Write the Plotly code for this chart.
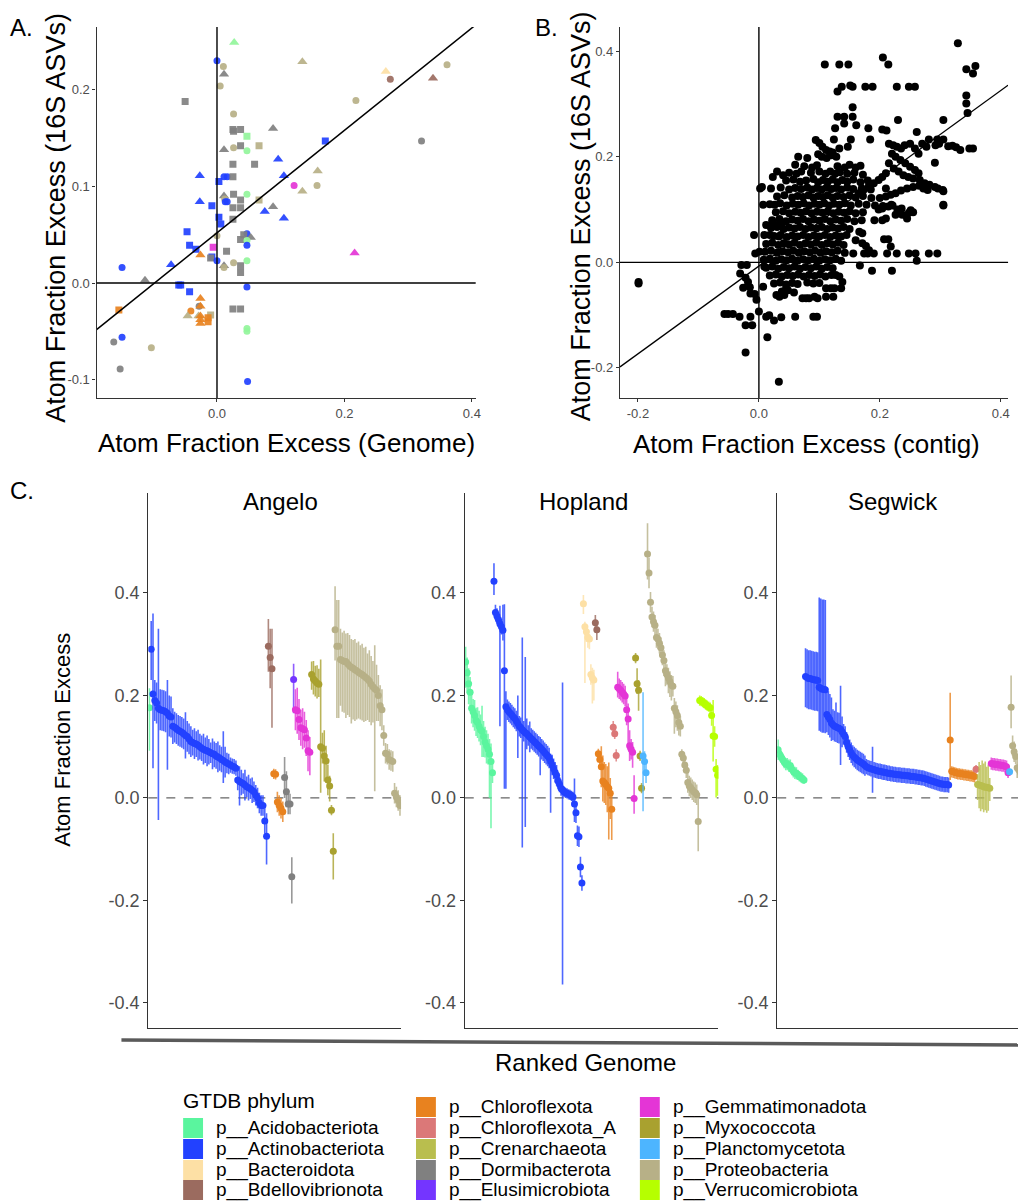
import plotly.graph_objects as go

W, H = 1026, 1201          # browser window
OFF = 8                    # default page margin of the html body
FW, FH = W - OFF, H - OFF  # figure size so that the figure fills the window
FONT = "Liberation Sans, Arial, Helvetica, sans-serif"

# ---------------- phylum palette ----------------
phylum_names = ["p__Acidobacteriota", "p__Actinobacteriota", "p__Bacteroidota", "p__Bdellovibrionota",
                "p__Chloroflexota", "p__Chloroflexota_A", "p__Crenarchaeota", "p__Dormibacterota",
                "p__Elusimicrobiota", "p__Gemmatimonadota", "p__Myxococcota", "p__Planctomycetota",
                "p__Proteobacteria", "p__Verrucomicrobiota"]
phylum_keys = ["aci", "act", "bac", "bde", "chl", "chA", "cre", "dor", "elu", "gem", "myx", "pla", "pro", "ver"]
phylum_colors = ["#5AF59E", "#2241FF", "#FDE0A5", "#9B6B5F", "#E8821F", "#DB7878", "#B9BE4E",
                 "#808080", "#7435FF", "#E435D6", "#A9A12F", "#4DB5FF", "#B7B087", "#B6FF00"]
COL = dict(zip(phylum_keys, phylum_colors))
COL_A = dict(COL, aci="#93F59B")

# ---------------- Panel A : genome vs 16S ----------------
a_x = [0.027, 0.000, 0.010, 0.011, 0.005, -0.050, 0.134, 0.265, 0.272, 0.339,
       0.361, 0.218, 0.321, 0.170, 0.026, 0.025, 0.026, 0.037, 0.047, 0.088,
       0.011, 0.026, 0.037, 0.047, 0.066, 0.025, 0.059, 0.096, -0.027, 0.011,
       0.016, 0.025, 0.105, 0.158, 0.121, 0.157, 0.134, 0.003, 0.047, -0.027,
       -0.008, 0.011, 0.012, 0.013, 0.016, 0.026, 0.037, 0.066, 0.025, 0.037,
       0.075, 0.088, 0.105, 0.003, 0.006, 0.025, -0.047, 0.000, 0.047, 0.037,
       0.042, 0.053, 0.047, 0.047, -0.043, -0.033, -0.006, -0.008, -0.010, 0.000,
       -0.026, -0.072, 0.015, 0.011, 0.011, 0.026, 0.037, 0.037, 0.047, -0.149,
       -0.113, -0.060, -0.057, -0.043, 0.047, 0.216, -0.154, -0.028, -0.026, -0.026,
       -0.041, -0.046, -0.029, -0.010, -0.026, -0.026, -0.026, -0.014, -0.014, 0.025,
       0.037, 0.047, 0.047, -0.149, -0.162, -0.103, -0.152, 0.048]
a_y = [0.249, 0.230, 0.224, 0.216, 0.204, 0.188, 0.229, 0.219, 0.211, 0.212,
       0.226, 0.189, 0.147, 0.147, 0.175, 0.159, 0.157, 0.159, 0.152, 0.160,
       0.138, 0.140, 0.142, 0.137, 0.142, 0.123, 0.123, 0.128, 0.111, 0.110,
       0.110, 0.110, 0.111, 0.116, 0.101, 0.101, 0.095, 0.105, 0.092, 0.084,
       0.080, 0.090, 0.087, 0.084, 0.084, 0.092, 0.086, 0.086, 0.078, 0.078,
       0.074, 0.079, 0.067, 0.068, 0.061, 0.066, 0.053, 0.049, 0.051, 0.045,
       0.050, 0.047, 0.044, 0.039, 0.039, 0.035, 0.037, 0.027, 0.026, 0.023,
       0.029, 0.019, 0.033, 0.018, 0.016, 0.021, 0.018, 0.011, 0.023, 0.016,
       0.003, -0.002, -0.002, -0.009, -0.004, 0.031, -0.028, -0.024, -0.016, -0.024,
       -0.029, -0.034, -0.034, -0.033, -0.034, -0.038, -0.042, -0.036, -0.040, -0.027,
       -0.027, -0.047, -0.050, -0.056, -0.061, -0.067, -0.089, -0.102]
a_phy = ["aci", "act", "pro", "dor", "pro", "dor", "pro", "bac", "bde", "bde",
         "pro", "pro", "dor", "act", "pro", "dor", "dor", "dor", "aci", "dor",
         "dor", "pro", "dor", "aci", "pro", "dor", "dor", "act", "act", "act",
         "act", "dor", "act", "pro", "gem", "pro", "pro", "act", "aci", "act",
         "act", "dor", "pro", "act", "act", "dor", "dor", "pro", "dor", "dor",
         "act", "dor", "act", "act", "act", "dor", "act", "pro", "act", "dor",
         "dor", "dor", "aci", "act", "act", "act", "gem", "act", "dor", "act",
         "chl", "act", "dor", "dor", "pro", "pro", "dor", "dor", "aci", "act",
         "dor", "act", "act", "act", "act", "gem", "chl", "dor", "chl", "chl",
         "chl", "pro", "pro", "pro", "chl", "chl", "chl", "chl", "chl", "dor",
         "dor", "aci", "aci", "act", "dor", "pro", "dor", "act"]
a_shape = ["t", "c", "c", "t", "c", "s", "t", "t", "c", "t",
           "c", "c", "c", "s", "c", "s", "s", "s", "s", "t",
           "t", "c", "s", "c", "s", "s", "s", "t", "t", "c",
           "c", "s", "t", "t", "c", "c", "t", "s", "c", "t",
           "s", "t", "c", "c", "c", "s", "s", "s", "s", "s",
           "t", "t", "t", "s", "s", "s", "s", "c", "c", "s",
           "s", "t", "c", "c", "s", "s", "s", "s", "s", "c",
           "t", "t", "s", "t", "c", "c", "s", "s", "c", "c",
           "t", "s", "s", "s", "c", "t", "s", "c", "t", "t",
           "c", "t", "t", "s", "t", "t", "t", "s", "s", "s",
           "s", "c", "c", "c", "c", "c", "c", "c"]
a_fit = [0.052, 0.53]  # intercept, slope

# ---------------- Panel B : contig vs 16S ----------------
b_outer = [(0.329, 0.415), (0.343, 0.366), (0.358, 0.372), (0.354, 0.358),
           (0.109, 0.375), (0.133, 0.375), (0.148, 0.375), (0.205, 0.388), (0.214, 0.375),
           (0.130, 0.324), (0.137, 0.333), (0.151, 0.335), (0.155, 0.333), (0.176, 0.333), (0.188, 0.333),
           (0.228, 0.333), (0.248, 0.333), (0.258, 0.333),
           (0.343, 0.316), (0.343, 0.301), (0.345, 0.283),
           (0.155, 0.294), (0.130, 0.276), (0.141, 0.276), (0.155, 0.276), (0.141, 0.263), (0.126, 0.254),
           (0.161, 0.260), (0.230, 0.270), (0.305, 0.270), (0.181, 0.254), (0.204, 0.252), (0.211, 0.250),
           (0.261, 0.247), (0.184, 0.233), (0.152, 0.233), (0.124, 0.233),
           (0.094, 0.232), (0.100, 0.226), (0.105, 0.219), (0.111, 0.213), (0.117, 0.210), (0.122, 0.208),
           (0.133, 0.216), (0.147, 0.219), (0.281, 0.233), (0.295, 0.233), (0.305, 0.233),
           (0.313, 0.220), (0.320, 0.221), (0.326, 0.218), (0.333, 0.213), (0.348, 0.216), (0.354, 0.216),
           (0.270, 0.225), (0.277, 0.219), (0.292, 0.222), (0.298, 0.225), (0.291, 0.189),
           (0.305, 0.135), (0.305, 0.108)]
b_right = [(0.215, 0.225), (0.222, 0.222), (0.228, 0.219), (0.235, 0.216), (0.241, 0.222), (0.250, 0.225),
           (0.258, 0.216), (0.264, 0.206), (0.220, 0.206), (0.226, 0.200), (0.234, 0.194), (0.242, 0.188),
           (0.250, 0.181), (0.258, 0.175), (0.264, 0.169), (0.215, 0.188), (0.223, 0.178), (0.231, 0.172),
           (0.239, 0.165), (0.247, 0.162), (0.255, 0.159), (0.266, 0.156), (0.274, 0.150), (0.282, 0.147),
           (0.291, 0.143), (0.296, 0.140), (0.304, 0.137), (0.210, 0.169), (0.204, 0.162), (0.198, 0.156),
           (0.190, 0.150), (0.181, 0.143), (0.173, 0.137), (0.165, 0.131),
           (0.200, 0.122), (0.210, 0.125), (0.218, 0.128), (0.226, 0.131), (0.235, 0.136), (0.245, 0.140),
           (0.255, 0.143), (0.265, 0.145), (0.272, 0.140), (0.279, 0.137), (0.210, 0.140), (0.192, 0.108),
           (0.198, 0.100), (0.205, 0.107), (0.214, 0.106), (0.221, 0.108), (0.229, 0.100), (0.236, 0.102),
           (0.248, 0.094), (0.255, 0.095), (0.191, 0.080), (0.204, 0.080), (0.210, 0.083), (0.226, 0.090),
           (0.237, 0.090), (0.245, 0.083), (0.251, 0.099), (0.204, 0.102), (0.219, 0.109), (0.305, 0.109)]
b_lower = [(-0.199, -0.037), (-0.199, -0.040), (0.033, -0.226), (-0.022, -0.171), (0.014, -0.142),
           (-0.057, -0.098), (-0.051, -0.098), (-0.043, -0.098), (-0.032, -0.103),
           (-0.022, -0.119), (-0.011, -0.119), (-0.014, -0.103), (0.000, -0.093),
           (0.012, -0.103), (0.017, -0.100), (0.025, -0.110), (0.037, -0.104),
           (0.060, -0.103), (0.090, -0.103), (0.096, -0.103),
           (-0.029, -0.005), (-0.020, -0.005), (-0.031, -0.021), (-0.022, -0.029), (-0.018, -0.037),
           (-0.015, -0.047), (-0.026, -0.048), (-0.014, -0.059), (-0.007, -0.060), (-0.004, -0.071),
           (0.007, -0.046), (0.009, -0.008), (-0.008, 0.052), (-0.006, 0.017), (0.001, 0.020),
           (0.007, 0.109), (0.026, 0.109), (0.012, 0.071), (0.020, 0.071), (0.029, 0.071), (0.037, 0.071),
           (0.009, 0.052), (0.018, 0.052), (0.033, 0.049),
           (0.029, -0.062), (0.034, -0.065), (0.042, -0.062), (0.045, -0.049),
           (0.072, -0.068), (0.078, -0.068), (0.083, -0.068), (0.092, -0.065), (0.097, -0.068),
           (0.111, -0.049), (0.119, -0.049), (0.125, -0.049), (0.111, -0.065), (0.123, -0.065),
           (0.136, -0.049), (0.138, -0.037), (0.127, -0.024), (0.133, -0.027),
           (0.167, -0.006), (0.187, -0.016), (0.220, -0.016),
           (0.156, 0.017), (0.174, 0.017), (0.180, 0.017), (0.190, 0.017), (0.212, 0.017), (0.228, 0.017),
           (0.248, 0.017), (0.259, 0.017), (0.281, 0.017), (0.295, 0.017), (0.261, 0.003),
           (0.160, 0.042), (0.171, 0.036), (0.177, 0.031), (0.182, 0.023),
           (0.207, 0.044), (0.214, 0.044), (0.218, 0.030), (0.166, 0.058), (0.171, 0.055),
           (0.002, 0.140), (0.005, 0.143), (0.023, 0.162), (0.040, 0.165)]
b_core = [(0.065, 0.200), (0.080, 0.198), (0.098, 0.205), (0.104, 0.200), (0.112, 0.198), (0.120, 0.203), (0.128, 0.200),
          (0.060, 0.185), (0.075, 0.182), (0.088, 0.180), (0.096, 0.184), (0.130, 0.182), (0.142, 0.180),
          (0.150, 0.185), (0.160, 0.180), (0.168, 0.183),
          (0.030, 0.172), (0.050, 0.170), (0.062, 0.168), (0.070, 0.172), (0.086, 0.170), (0.100, 0.172),
          (0.110, 0.168), (0.118, 0.172), (0.126, 0.168), (0.134, 0.171), (0.146, 0.168), (0.158, 0.170), (0.172, 0.166),
          (0.045, 0.155), (0.057, 0.157), (0.068, 0.153), (0.078, 0.155), (0.090, 0.158), (0.098, 0.152),
          (0.106, 0.156), (0.114, 0.153), (0.122, 0.157), (0.130, 0.152), (0.138, 0.156), (0.146, 0.153),
          (0.156, 0.157), (0.168, 0.152), (0.180, 0.155),
          (0.020, 0.140), (0.036, 0.142), (0.050, 0.138), (0.060, 0.141), (0.070, 0.139), (0.080, 0.142),
          (0.088, 0.138), (0.096, 0.141), (0.104, 0.138), (0.112, 0.142), (0.120, 0.139), (0.128, 0.141),
          (0.136, 0.138), (0.146, 0.142), (0.156, 0.139), (0.170, 0.140), (0.185, 0.138),
          (0.030, 0.125), (0.042, 0.127), (0.055, 0.123), (0.064, 0.126), (0.073, 0.124), (0.082, 0.127),
          (0.090, 0.123), (0.098, 0.126), (0.106, 0.124), (0.114, 0.127), (0.122, 0.123), (0.130, 0.126),
          (0.140, 0.124), (0.150, 0.127), (0.160, 0.123), (0.172, 0.126), (0.186, 0.122),
          (0.018, 0.110), (0.035, 0.112), (0.046, 0.108), (0.056, 0.111), (0.065, 0.109), (0.074, 0.112),
          (0.083, 0.108), (0.092, 0.111), (0.100, 0.109), (0.108, 0.112), (0.116, 0.108), (0.124, 0.111),
          (0.133, 0.109), (0.142, 0.112), (0.152, 0.108), (0.165, 0.111), (0.178, 0.109),
          (0.028, 0.095), (0.040, 0.097), (0.050, 0.093), (0.060, 0.096), (0.069, 0.094), (0.078, 0.097),
          (0.087, 0.093), (0.096, 0.096), (0.105, 0.094), (0.114, 0.097), (0.123, 0.093), (0.132, 0.096),
          (0.141, 0.094), (0.150, 0.097), (0.160, 0.093), (0.172, 0.095),
          (0.022, 0.080), (0.034, 0.082), (0.045, 0.078), (0.055, 0.081), (0.064, 0.079), (0.073, 0.082),
          (0.082, 0.078), (0.091, 0.081), (0.100, 0.079), (0.109, 0.082), (0.118, 0.078), (0.127, 0.081),
          (0.136, 0.079), (0.146, 0.082), (0.158, 0.078), (0.170, 0.080),
          (0.020, 0.065), (0.030, 0.067), (0.041, 0.063), (0.050, 0.066), (0.059, 0.064), (0.068, 0.067),
          (0.077, 0.063), (0.086, 0.066), (0.095, 0.064), (0.104, 0.067), (0.113, 0.063), (0.122, 0.066),
          (0.131, 0.064), (0.140, 0.067), (0.150, 0.063),
          (0.025, 0.050), (0.036, 0.052), (0.046, 0.048), (0.055, 0.051), (0.064, 0.049), (0.073, 0.052),
          (0.082, 0.048), (0.091, 0.051), (0.100, 0.049), (0.109, 0.052), (0.118, 0.048), (0.127, 0.051),
          (0.136, 0.049), (0.145, 0.052),
          (0.012, 0.035), (0.022, 0.037), (0.032, 0.033), (0.041, 0.036), (0.050, 0.034), (0.059, 0.037),
          (0.068, 0.033), (0.077, 0.036), (0.086, 0.034), (0.095, 0.037), (0.104, 0.033), (0.113, 0.036),
          (0.122, 0.034), (0.131, 0.037), (0.140, 0.033),
          (0.010, 0.020), (0.020, 0.022), (0.030, 0.018), (0.039, 0.021), (0.048, 0.019), (0.057, 0.022),
          (0.066, 0.018), (0.075, 0.021), (0.084, 0.019), (0.093, 0.022), (0.102, 0.018), (0.111, 0.021),
          (0.120, 0.019), (0.130, 0.022), (0.142, 0.018),
          (0.008, 0.005), (0.018, 0.007), (0.028, 0.003), (0.037, 0.006), (0.046, 0.004), (0.055, 0.007),
          (0.064, 0.003), (0.073, 0.006), (0.082, 0.004), (0.091, 0.007), (0.100, 0.003), (0.109, 0.006),
          (0.118, 0.004), (0.127, 0.007), (0.136, 0.003),
          (0.012, -0.010), (0.022, -0.008), (0.032, -0.012), (0.041, -0.009), (0.050, -0.011), (0.059, -0.008),
          (0.068, -0.012), (0.077, -0.009), (0.086, -0.011), (0.095, -0.008), (0.104, -0.012), (0.113, -0.009),
          (0.122, -0.011),
          (0.018, -0.025), (0.028, -0.023), (0.038, -0.027), (0.047, -0.024), (0.056, -0.026), (0.065, -0.023),
          (0.074, -0.027), (0.083, -0.024), (0.092, -0.026), (0.101, -0.023), (0.110, -0.027), (0.120, -0.024),
          (0.025, -0.040), (0.035, -0.038), (0.045, -0.042), (0.055, -0.039), (0.064, -0.041), (0.080, -0.038),
          (0.090, -0.040), (0.100, -0.039), (0.038, -0.055), (0.048, -0.053), (0.058, -0.057)]
b_fit = [-0.007, 0.832]

# ---------------- Panel C : ranked genomes per site ----------------
# Angelo
ang_aci_v = [0.176]
ang_aci_eu = [0.038]
ang_aci_ed = [0.084]
ang_act_v = [0.290, 0.203, 0.190, 0.185, 0.175, 0.172, 0.171, 0.170, 0.168, 0.165,
             0.160, 0.158, 0.140, 0.138, 0.135, 0.132, 0.130, 0.128, 0.125, 0.122,
             0.120, 0.115, 0.110, 0.108, 0.106, 0.105, 0.103, 0.100, 0.097, 0.095,
             0.093, 0.092, 0.090, 0.088, 0.086, 0.085, 0.082, 0.080, 0.078, 0.075,
             0.073, 0.070, 0.068, 0.066, 0.064, 0.062, 0.061, 0.058, 0.035, 0.032,
             0.030, 0.028, 0.025, 0.022, 0.020, 0.018, 0.015, 0.012, 0.005, 0.000,
             -0.010, -0.015, -0.015, -0.045, -0.075]
ang_act_eu = [0.055, 0.157, 0.040, 0.040, 0.155, 0.040, 0.040, 0.040, 0.040, 0.065,
              0.040, 0.040, 0.035, 0.030, 0.030, 0.030, 0.030, 0.030, 0.030, 0.045,
              0.030, 0.030, 0.030, 0.025, 0.030, 0.025, 0.030, 0.025, 0.025, 0.030,
              0.025, 0.030, 0.025, 0.020, 0.030, 0.025, 0.025, 0.030, 0.025, 0.025,
              0.057, 0.030, 0.020, 0.020, 0.015, 0.015, 0.015, 0.015, 0.020, 0.030,
              0.025, 0.020, 0.030, 0.020, 0.025, 0.020, 0.025, 0.020, 0.020, 0.020,
              0.020, 0.020, 0.020, 0.025, 0.045]
ang_act_ed = [0.060, 0.145, 0.040, 0.040, 0.218, 0.040, 0.040, 0.040, 0.040, 0.110,
              0.040, 0.040, 0.035, 0.030, 0.030, 0.030, 0.030, 0.030, 0.030, 0.045,
              0.030, 0.030, 0.030, 0.025, 0.030, 0.025, 0.030, 0.025, 0.025, 0.030,
              0.025, 0.030, 0.025, 0.020, 0.030, 0.025, 0.025, 0.030, 0.025, 0.025,
              0.044, 0.030, 0.020, 0.020, 0.015, 0.015, 0.015, 0.015, 0.020, 0.047,
              0.025, 0.020, 0.030, 0.020, 0.025, 0.020, 0.025, 0.020, 0.020, 0.020,
              0.020, 0.020, 0.020, 0.025, 0.055]
ang_bde_v = [0.296, 0.274, 0.252]
ang_bde_eu = [0.053, 0.056, 0.078]
ang_bde_ed = [0.050, 0.060, 0.115]
ang_chl_v = [0.047, 0.046, -0.008, -0.015, -0.020, -0.027]
ang_chl_eu = [0.010, 0.010, 0.020, 0.020, 0.020, 0.020]
ang_chl_ed = [0.010, 0.010, 0.020, 0.020, 0.020, 0.020]
ang_dor_v = [0.040, 0.012, -0.012, -0.012, -0.154]
ang_dor_eu = [0.040, 0.040, 0.030, 0.020, 0.038]
ang_dor_ed = [0.040, 0.030, 0.020, 0.020, 0.052]
ang_elu_v = [0.231]
ang_elu_eu = [0.031]
ang_elu_ed = [0.066]
ang_gem_v = [0.172, 0.170, 0.153, 0.137, 0.135, 0.133, 0.117, 0.092, 0.089]
ang_gem_eu = [0.040, 0.045, 0.040, 0.035, 0.040, 0.035, 0.035, 0.040, 0.030]
ang_gem_ed = [0.040, 0.045, 0.040, 0.035, 0.040, 0.035, 0.035, 0.040, 0.045]
ang_myx_v = [0.241, 0.232, 0.228, 0.224, 0.222, 0.100, 0.097, 0.082, 0.072, 0.035, 0.023, -0.024, -0.104]
ang_myx_eu = [0.025, 0.035, 0.030, 0.035, 0.030, 0.170, 0.030, 0.050, 0.030, 0.030, 0.020, 0.010, 0.035]
ang_myx_ed = [0.030, 0.030, 0.030, 0.030, 0.025, 0.090, 0.030, 0.050, 0.040, 0.030, 0.030, 0.010, 0.055]
ang_pro_v = [0.328, 0.296, 0.296, 0.270, 0.268, 0.266, 0.266, 0.262, 0.258, 0.255,
             0.253, 0.250, 0.248, 0.245, 0.243, 0.241, 0.238, 0.235, 0.232, 0.228,
             0.222, 0.217, 0.213, 0.210, 0.200, 0.180, 0.172, 0.122, 0.087, 0.085,
             0.075, 0.073, 0.071, 0.009, 0.002, -0.005, -0.015]
ang_pro_eu = [0.085, 0.090, 0.090, 0.060, 0.055, 0.060, 0.055, 0.060, 0.060, 0.055,
              0.055, 0.060, 0.055, 0.060, 0.055, 0.060, 0.055, 0.060, 0.050, 0.060,
              0.055, 0.050, 0.085, 0.050, 0.040, 0.040, 0.040, 0.020, 0.020, 0.020,
              0.020, 0.020, 0.020, 0.020, 0.020, 0.020, 0.020]
ang_pro_ed = [0.060, 0.140, 0.140, 0.090, 0.100, 0.100, 0.110, 0.100, 0.100, 0.110,
              0.100, 0.100, 0.095, 0.090, 0.090, 0.090, 0.090, 0.085, 0.080, 0.080,
              0.080, 0.070, 0.200, 0.060, 0.050, 0.040, 0.040, 0.020, 0.020, 0.020,
              0.020, 0.020, 0.020, 0.020, 0.020, 0.020, 0.020]

# Hopland
hop_aci_v = [0.265, 0.244, 0.223, 0.206, 0.175, 0.168, 0.161, 0.151, 0.147, 0.140,
             0.133, 0.130, 0.120, 0.109, 0.102, 0.095, 0.085, 0.071, 0.049]
hop_aci_eu = [0.030, 0.030, 0.030, 0.030, 0.030, 0.025, 0.030, 0.025, 0.030, 0.030,
              0.030, 0.050, 0.030, 0.030, 0.030, 0.030, 0.030, 0.035, 0.020]
hop_aci_ed = [0.050, 0.040, 0.040, 0.030, 0.030, 0.030, 0.030, 0.030, 0.030, 0.030,
              0.030, 0.050, 0.040, 0.030, 0.035, 0.030, 0.085, 0.130, 0.020]
hop_act_v = [0.423, 0.362, 0.355, 0.348, 0.340, 0.334, 0.327, 0.248, 0.178, 0.172,
             0.168, 0.165, 0.162, 0.158, 0.155, 0.150, 0.145, 0.140, 0.137, 0.133,
             0.130, 0.127, 0.125, 0.122, 0.119, 0.116, 0.113, 0.110, 0.107, 0.104,
             0.101, 0.099, 0.095, 0.092, 0.088, 0.085, 0.082, 0.078, 0.071, 0.064,
             0.057, 0.050, 0.044, 0.033, 0.026, 0.019, 0.016, 0.012, 0.010, 0.009,
             0.007, 0.006, 0.004, 0.002, -0.012, -0.029, -0.074, -0.076, -0.135, -0.166]
hop_act_eu = [0.035, 0.015, 0.015, 0.015, 0.035, 0.015, 0.050, 0.130, 0.030, 0.020,
              0.020, 0.020, 0.020, 0.020, 0.020, 0.020, 0.055, 0.020, 0.020, 0.180,
              0.020, 0.148, 0.030, 0.020, 0.030, 0.020, 0.020, 0.020, 0.020, 0.020,
              0.020, 0.020, 0.020, 0.020, 0.020, 0.020, 0.020, 0.020, 0.015, 0.020,
              0.020, 0.020, 0.020, 0.015, 0.015, 0.015, 0.209, 0.010, 0.010, 0.010,
              0.010, 0.010, 0.010, 0.010, 0.050, 0.020, 0.020, 0.020, 0.020, 0.015]
hop_act_ed = [0.027, 0.015, 0.015, 0.015, 0.200, 0.015, 0.020, 0.230, 0.160, 0.020,
              0.020, 0.020, 0.020, 0.020, 0.020, 0.020, 0.067, 0.020, 0.020, 0.230,
              0.020, 0.184, 0.030, 0.020, 0.030, 0.020, 0.020, 0.020, 0.020, 0.020,
              0.020, 0.055, 0.020, 0.020, 0.020, 0.020, 0.020, 0.020, 0.100, 0.020,
              0.020, 0.020, 0.020, 0.015, 0.015, 0.015, 0.380, 0.010, 0.010, 0.010,
              0.010, 0.010, 0.010, 0.010, 0.035, 0.020, 0.020, 0.020, 0.020, 0.015]
hop_bac_v = [0.379, 0.334, 0.324, 0.313, 0.310, 0.241, 0.234, 0.230]
hop_bac_eu = [0.017, 0.010, 0.010, 0.010, 0.010, 0.020, 0.020, 0.020]
hop_bac_ed = [0.020, 0.110, 0.020, 0.020, 0.020, 0.020, 0.050, 0.040]
hop_bde_v = [0.342, 0.328]
hop_bde_eu = [0.015, 0.015]
hop_bde_ed = [0.015, 0.020]
hop_chl_v = [0.086, 0.075, 0.061, 0.033, 0.030, 0.026, 0.022, 0.019, 0.009, -0.022]
hop_chl_eu = [0.010, 0.015, 0.040, 0.050, 0.040, 0.040, 0.040, 0.050, 0.030, 0.030]
hop_chl_ed = [0.010, 0.015, 0.040, 0.040, 0.040, 0.040, 0.050, 0.100, 0.050, 0.060]
hop_chA_v = [0.138, 0.125, 0.083]
hop_chA_eu = [0.012, 0.010, 0.012]
hop_chA_ed = [0.010, 0.010, 0.012]
hop_gem_v = [0.216, 0.213, 0.210, 0.206, 0.203, 0.199, 0.172, 0.154, 0.102, 0.095, 0.089, -0.001]
hop_gem_eu = [0.030, 0.020, 0.020, 0.020, 0.020, 0.020, 0.030, 0.030, 0.030, 0.020, 0.020, 0.045]
hop_gem_ed = [0.020, 0.020, 0.020, 0.020, 0.020, 0.020, 0.030, 0.060, 0.030, 0.020, 0.030, 0.030]
hop_myx_v = [0.273, 0.223, 0.210, 0.082, 0.019]
hop_myx_eu = [0.010, 0.030, 0.020, 0.010, 0.010]
hop_myx_ed = [0.010, 0.020, 0.040, 0.010, 0.010]
hop_pla_v = [0.082, 0.071, 0.049]
hop_pla_eu = [0.124, 0.020, 0.020]
hop_pla_ed = [0.108, 0.020, 0.020]
hop_pro_v = [0.476, 0.439, 0.382, 0.353, 0.344, 0.337, 0.313, 0.310, 0.302, 0.293,
             0.279, 0.268, 0.248, 0.241, 0.234, 0.227, 0.220, 0.218, 0.175, 0.168,
             0.161, 0.147, 0.140, 0.085, 0.078, 0.064, 0.054, 0.030, 0.023, 0.020,
             0.016, 0.012, 0.010, 0.006, -0.046]
hop_pro_eu = [0.060, 0.030, 0.020, 0.020, 0.020, 0.020, 0.020, 0.020, 0.020, 0.020,
              0.020, 0.020, 0.020, 0.020, 0.020, 0.020, 0.020, 0.020, 0.020, 0.020,
              0.020, 0.020, 0.020, 0.010, 0.010, 0.015, 0.015, 0.020, 0.020, 0.020,
              0.020, 0.020, 0.020, 0.020, 0.060]
hop_pro_ed = [0.050, 0.030, 0.020, 0.020, 0.020, 0.020, 0.020, 0.020, 0.020, 0.020,
              0.020, 0.030, 0.030, 0.020, 0.030, 0.030, 0.030, 0.020, 0.050, 0.030,
              0.030, 0.025, 0.020, 0.010, 0.010, 0.015, 0.015, 0.020, 0.020, 0.020,
              0.020, 0.020, 0.020, 0.020, 0.058]
hop_ver_v = [0.190, 0.189, 0.187, 0.185, 0.182, 0.180, 0.178, 0.176, 0.161, 0.121, 0.120, 0.056, 0.044]
hop_ver_eu = [0.010, 0.010, 0.010, 0.010, 0.010, 0.010, 0.010, 0.010, 0.020, 0.070, 0.020, 0.020, 0.020]
hop_ver_ed = [0.010, 0.010, 0.010, 0.010, 0.010, 0.010, 0.010, 0.010, 0.020, 0.050, 0.020, 0.055, 0.040]

# Segwick
seg_aci_v = [0.094, 0.085, 0.080, 0.075, 0.070, 0.066, 0.066, 0.063, 0.063, 0.056,
             0.052, 0.049, 0.048, 0.045, 0.042, 0.040, 0.038, 0.035]
seg_aci_eu = [0.020, 0.012, 0.012, 0.012, 0.012, 0.012, 0.012, 0.012, 0.012, 0.012,
              0.012, 0.012, 0.012, 0.010, 0.010, 0.010, 0.010, 0.008]
seg_aci_ed = [0.020, 0.012, 0.012, 0.012, 0.012, 0.012, 0.012, 0.012, 0.012, 0.012,
              0.012, 0.012, 0.012, 0.010, 0.010, 0.010, 0.010, 0.008]
seg_act_v = [0.237, 0.235, 0.233, 0.233, 0.232, 0.231, 0.230, 0.230, 0.229, 0.216,
             0.214, 0.212, 0.212, 0.211, 0.163, 0.158, 0.153, 0.146, 0.143, 0.140,
             0.139, 0.137, 0.136, 0.134, 0.129, 0.124, 0.120, 0.108, 0.100, 0.094,
             0.088, 0.083, 0.080, 0.077, 0.074, 0.072, 0.070, 0.068, 0.066, 0.063,
             0.061, 0.059, 0.058, 0.057, 0.056, 0.055, 0.054, 0.053, 0.052, 0.052,
             0.051, 0.050, 0.050, 0.049, 0.048, 0.048, 0.047, 0.047, 0.046, 0.046,
             0.045, 0.045, 0.045, 0.044, 0.044, 0.044, 0.043, 0.043, 0.043, 0.042,
             0.042, 0.042, 0.041, 0.041, 0.040, 0.040, 0.039, 0.039, 0.038, 0.037,
             0.036, 0.035, 0.034, 0.033, 0.032, 0.031, 0.030, 0.029, 0.028, 0.027,
             0.027, 0.026, 0.026, 0.026, 0.025]
seg_act_eu = [0.055, 0.055, 0.055, 0.055, 0.055, 0.055, 0.055, 0.055, 0.055, 0.175,
              0.175, 0.175, 0.175, 0.175, 0.050, 0.050, 0.050, 0.050, 0.030, 0.030,
              0.047, 0.030, 0.030, 0.085, 0.030, 0.020, 0.020, 0.020, 0.020, 0.020,
              0.020, 0.020, 0.020, 0.020, 0.020, 0.020, 0.020, 0.020, 0.020, 0.020,
              0.015, 0.015, 0.015, 0.015, 0.044, 0.015, 0.015, 0.015, 0.015, 0.015,
              0.015, 0.015, 0.015, 0.015, 0.015, 0.015, 0.015, 0.015, 0.015, 0.015,
              0.015, 0.015, 0.015, 0.015, 0.015, 0.015, 0.015, 0.015, 0.015, 0.015,
              0.015, 0.015, 0.015, 0.015, 0.015, 0.015, 0.015, 0.015, 0.015, 0.015,
              0.015, 0.015, 0.015, 0.015, 0.015, 0.015, 0.015, 0.015, 0.015, 0.015,
              0.015, 0.015, 0.015, 0.015, 0.015]
seg_act_ed = [0.060, 0.060, 0.060, 0.060, 0.060, 0.060, 0.060, 0.060, 0.060, 0.085,
              0.085, 0.085, 0.085, 0.085, 0.035, 0.035, 0.035, 0.035, 0.030, 0.030,
              0.030, 0.030, 0.030, 0.070, 0.030, 0.020, 0.020, 0.020, 0.020, 0.020,
              0.020, 0.020, 0.020, 0.020, 0.020, 0.020, 0.020, 0.020, 0.020, 0.020,
              0.015, 0.015, 0.015, 0.015, 0.046, 0.015, 0.015, 0.015, 0.015, 0.015,
              0.015, 0.015, 0.015, 0.015, 0.015, 0.015, 0.015, 0.015, 0.015, 0.015,
              0.015, 0.015, 0.015, 0.015, 0.015, 0.015, 0.015, 0.015, 0.015, 0.015,
              0.015, 0.015, 0.015, 0.015, 0.015, 0.015, 0.015, 0.015, 0.015, 0.015,
              0.015, 0.015, 0.015, 0.015, 0.015, 0.015, 0.015, 0.015, 0.015, 0.015,
              0.015, 0.015, 0.015, 0.015, 0.015]
seg_chl_v = [0.113, 0.052, 0.051, 0.050, 0.049, 0.048, 0.048, 0.047, 0.047, 0.046,
             0.046, 0.045, 0.045, 0.044, 0.044, 0.043, 0.042]
seg_chl_eu = [0.092, 0.010, 0.010, 0.010, 0.010, 0.010, 0.010, 0.010, 0.010, 0.010,
              0.010, 0.010, 0.010, 0.010, 0.010, 0.010, 0.010]
seg_chl_ed = [0.078, 0.012, 0.012, 0.012, 0.012, 0.012, 0.012, 0.012, 0.012, 0.012,
              0.012, 0.012, 0.012, 0.012, 0.012, 0.012, 0.012]
seg_chA_v = [0.056]
seg_chA_eu = [0.008]
seg_chA_ed = [0.008]
seg_cre_v = [0.026, 0.025, 0.024, 0.023, 0.022, 0.021, 0.021, 0.020, 0.019]
seg_cre_eu = [0.020, 0.045, 0.040, 0.050, 0.045, 0.050, 0.040, 0.045, 0.020]
seg_cre_ed = [0.030, 0.045, 0.050, 0.045, 0.050, 0.045, 0.050, 0.045, 0.025]
seg_gem_v = [0.067, 0.066, 0.066, 0.065, 0.065, 0.064, 0.064, 0.063, 0.063, 0.062, 0.061, 0.049]
seg_gem_eu = [0.012, 0.012, 0.012, 0.012, 0.012, 0.012, 0.012, 0.012, 0.012, 0.012, 0.012, 0.010]
seg_gem_ed = [0.012, 0.012, 0.012, 0.012, 0.012, 0.012, 0.012, 0.012, 0.012, 0.012, 0.012, 0.010]
seg_pla_v = [0.051]
seg_pla_eu = [0.006]
seg_pla_ed = [0.006]
seg_pro_v = [0.177, 0.102, 0.090, 0.081, 0.059, 0.055, 0.050, 0.045, 0.040, 0.035, 0.030, 0.025]
seg_pro_eu = [0.062, 0.020, 0.020, 0.015, 0.020, 0.015, 0.015, 0.015, 0.015, 0.015, 0.015, 0.015]
seg_pro_ed = [0.041, 0.020, 0.020, 0.015, 0.020, 0.015, 0.015, 0.015, 0.015, 0.015, 0.015, 0.015]

site_names = ["Angelo", "Hopland", "Segwick"]
angelo = [("aci", ang_aci_v, ang_aci_eu, ang_aci_ed), ("act", ang_act_v, ang_act_eu, ang_act_ed),
          ("bde", ang_bde_v, ang_bde_eu, ang_bde_ed), ("chl", ang_chl_v, ang_chl_eu, ang_chl_ed),
          ("dor", ang_dor_v, ang_dor_eu, ang_dor_ed), ("elu", ang_elu_v, ang_elu_eu, ang_elu_ed),
          ("gem", ang_gem_v, ang_gem_eu, ang_gem_ed), ("myx", ang_myx_v, ang_myx_eu, ang_myx_ed),
          ("pro", ang_pro_v, ang_pro_eu, ang_pro_ed)]
hopland = [("aci", hop_aci_v, hop_aci_eu, hop_aci_ed), ("act", hop_act_v, hop_act_eu, hop_act_ed),
           ("bac", hop_bac_v, hop_bac_eu, hop_bac_ed), ("bde", hop_bde_v, hop_bde_eu, hop_bde_ed),
           ("chl", hop_chl_v, hop_chl_eu, hop_chl_ed), ("chA", hop_chA_v, hop_chA_eu, hop_chA_ed),
           ("gem", hop_gem_v, hop_gem_eu, hop_gem_ed), ("myx", hop_myx_v, hop_myx_eu, hop_myx_ed),
           ("pla", hop_pla_v, hop_pla_eu, hop_pla_ed), ("pro", hop_pro_v, hop_pro_eu, hop_pro_ed),
           ("ver", hop_ver_v, hop_ver_eu, hop_ver_ed)]
segwick = [("aci", seg_aci_v, seg_aci_eu, seg_aci_ed), ("act", seg_act_v, seg_act_eu, seg_act_ed),
           ("chl", seg_chl_v, seg_chl_eu, seg_chl_ed), ("chA", seg_chA_v, seg_chA_eu, seg_chA_ed),
           ("cre", seg_cre_v, seg_cre_eu, seg_cre_ed), ("gem", seg_gem_v, seg_gem_eu, seg_gem_ed),
           ("pla", seg_pla_v, seg_pla_eu, seg_pla_ed), ("pro", seg_pro_v, seg_pro_eu, seg_pro_ed)]


# ---------------- geometry helpers (window pixels -> paper) ----------------
def px(p):
    return (p - OFF) / FW


def py(p):
    return 1 - (p - OFF) / FH


def xdom(l, r):
    return [max(px(l), 0.0), min(px(r), 1.0)]


def ydom(t, b):
    return [max(py(b), 0.0), min(py(t), 1.0)]


def rgba(hexc, a):
    h = hexc.lstrip("#")
    return "rgba(%d,%d,%d,%.2f)" % (int(h[0:2], 16), int(h[2:4], 16), int(h[4:6], 16), a)


fig = go.Figure()

# ---- Panel A traces ----
sym_map = {"c": "circle", "t": "triangle-up", "s": "square"}
size_map = {"c": 7, "t": 9, "s": 7}
fig.add_trace(go.Scatter(
    x=a_x, y=a_y, mode="markers", xaxis="x", yaxis="y", showlegend=False,
    marker=dict(color=[COL_A[k] for k in a_phy], symbol=[sym_map[s] for s in a_shape],
                size=[size_map[s] for s in a_shape], opacity=0.92, line=dict(width=0))))
A_XR = [-0.189, 0.406]
A_YR = [-0.119, 0.265]
fig.add_trace(go.Scatter(x=A_XR, y=[a_fit[0] + a_fit[1] * v for v in A_XR], mode="lines",
                         line=dict(color="black", width=1.5), xaxis="x", yaxis="y", showlegend=False))

# ---- Panel B traces ----
b_all = b_outer + b_right + b_lower + b_core
fig.add_trace(go.Scatter(x=[p[0] for p in b_all], y=[p[1] for p in b_all], mode="markers",
                         xaxis="x2", yaxis="y2", showlegend=False,
                         marker=dict(color="black", size=8, line=dict(width=0))))
B_XR = [-0.2297, 0.412]
B_YR = [-0.257, 0.446]
fig.add_trace(go.Scatter(x=B_XR, y=[b_fit[0] + b_fit[1] * v for v in B_XR], mode="lines",
                         line=dict(color="black", width=1.3), xaxis="x2", yaxis="y2", showlegend=False))

# ---- Panel C traces ----
facets = [(angelo, "x3", "y3"), (hopland, "x4", "y4"), (segwick, "x5", "y5")]
facet_counts = []
for groups, xa, ya in facets:
    rank = 1
    for key, v, eu, ed in groups:
        ranks = list(range(rank, rank + len(v)))
        rank += len(v)
        fig.add_trace(go.Scatter(
            x=ranks, y=v, mode="markers", xaxis=xa, yaxis=ya, showlegend=False,
            marker=dict(color=COL[key], size=7, line=dict(width=0)),
            error_y=dict(type="data", array=eu, arrayminus=ed, symmetric=False,
                         color=rgba(COL[key], 0.8), thickness=1.6, width=0)))
    facet_counts.append(rank - 1)

# ---------------- layout ----------------
tick_small = dict(family=FONT, size=13, color="#4d4d4d")
tick_big = dict(family=FONT, size=18, color="#4d4d4d")
base = dict(showgrid=False, zeroline=False, showline=True, linecolor="#333333", linewidth=1.3,
            mirror=False, ticks="outside", ticklen=3, tickwidth=1, tickcolor="#333333")

C_YR = [-0.449, 0.595]
C_YDOM = ydom(493, 1028)
layout = dict(
    width=FW, height=FH, margin=dict(l=0, r=0, t=0, b=0),
    paper_bgcolor="white", plot_bgcolor="white",
    font=dict(family=FONT, color="black"),
    xaxis=dict(base, domain=xdom(97, 478), range=A_XR, anchor="y",
               tickvals=[0.0, 0.2, 0.4], ticktext=["0.0", "0.2", "0.4"], tickfont=tick_small),
    yaxis=dict(base, domain=ydom(27, 398), range=A_YR, anchor="x",
               tickvals=[-0.1, 0.0, 0.1, 0.2], ticktext=["-0.1", "0.0", "0.1", "0.2"], tickfont=tick_small),
    xaxis2=dict(base, domain=xdom(623, 1013), range=B_XR, anchor="y2",
                tickvals=[-0.2, 0.0, 0.2, 0.4], ticktext=["-0.2", "0.0", "0.2", "0.4"], tickfont=tick_small),
    yaxis2=dict(base, domain=ydom(27, 398), range=B_YR, anchor="x2",
                tickvals=[-0.2, 0.0, 0.2, 0.4], ticktext=["-0.2", "0.0", "0.2", "0.4"], tickfont=tick_small),
)
c_xdoms = [xdom(149, 403), xdom(467, 722), xdom(781, 1026)]
c_xranges = [[0.4, facet_counts[0] + 0.6], [0.4, facet_counts[1] + 0.6], [0.4, 160.5]]
for i in range(3):
    xa, ya = "xaxis%d" % (i + 3), "yaxis%d" % (i + 3)
    layout[xa] = dict(base, domain=c_xdoms[i], range=c_xranges[i], anchor="y%d" % (i + 3),
                      ticks="", showticklabels=False)
    layout[ya] = dict(base, domain=C_YDOM, range=C_YR, anchor="x%d" % (i + 3), ticklen=4,
                      tickvals=[-0.4, -0.2, 0.0, 0.2, 0.4], ticktext=["-0.4", "-0.2", "0.0", "0.2", "0.4"],
                      tickfont=tick_big)
fig.update_layout(**layout)

shapes = []
# zero reference lines, panels A and B
for xr, yr in (("x", "y"), ("x2", "y2")):
    shapes.append(dict(type="line", xref=xr, yref=yr + " domain", x0=0, x1=0, y0=0, y1=1,
                       line=dict(color="black", width=1.4)))
    shapes.append(dict(type="line", xref=xr + " domain", yref=yr, x0=0, x1=1, y0=0, y1=0,
                       line=dict(color="black", width=1.4)))
# dashed zero lines in facets
for i in range(3):
    shapes.append(dict(type="line", xref="x%d domain" % (i + 3), yref="y%d" % (i + 3), x0=0, x1=1, y0=0, y1=0,
                       line=dict(color="#666666", width=1.2, dash="dash"), layer="below"))
# separator line above "Ranked Genome"
shapes.append(dict(type="line", xref="paper", yref="paper", x0=px(122), x1=1.0, y0=py(1040), y1=py(1045),
                   line=dict(color="#5a5a5a", width=3.5)))

annotations = []


def ann(text, x, y, size, xanchor="center", yanchor="middle", angle=0, color="black"):
    annotations.append(dict(text=text, x=px(x), y=py(y), xref="paper", yref="paper", showarrow=False,
                            xanchor=xanchor, yanchor=yanchor, textangle=angle,
                            font=dict(family=FONT, size=size, color=color)))


ann("A.", 8, 27, 24, xanchor="left")
ann("B.", 536, 27, 24, xanchor="left")
ann("C.", 8, 490, 24, xanchor="left")
ann("Atom Fraction Excess (16S ASVs)", 56, 218, 27, angle=-90)
ann("Atom Fraction Excess (Genome)", 288, 443, 26)
ann("Atom Fraction Excess (16S ASVs)", 584, 216, 27, angle=-90)
ann("Atom Fraction Excess (contig)", 810, 444, 26)
ann("Atom Fraction Excess", 62, 740, 22, angle=-90)
for name, cx in zip(site_names, [282, 586, 897]):
    ann(name, cx, 501, 24)
ann("Ranked Genome", 588, 1062, 24)

# legend (manual)
ann("GTDB phylum", 182, 1100, 21, xanchor="left")
legend_cols = [(184, [1128, 1149, 1170, 1190]),
               (418, [1107, 1128, 1149, 1170, 1190]),
               (643, [1107, 1128, 1149, 1170, 1190])]
idx = 0
for sx, rows in legend_cols:
    for ry in rows:
        shapes.append(dict(type="rect", xref="paper", yref="paper", x0=px(sx), x1=px(sx + 20),
                           y0=py(ry + 10), y1=py(ry - 10),
                           fillcolor=phylum_colors[idx], line=dict(width=0)))
        ann(phylum_names[idx], sx + 31, ry, 19, xanchor="left")
        idx += 1

fig.update_layout(shapes=shapes, annotations=annotations)
fig.write_html("out.html", config={"displayModeBar": False})
